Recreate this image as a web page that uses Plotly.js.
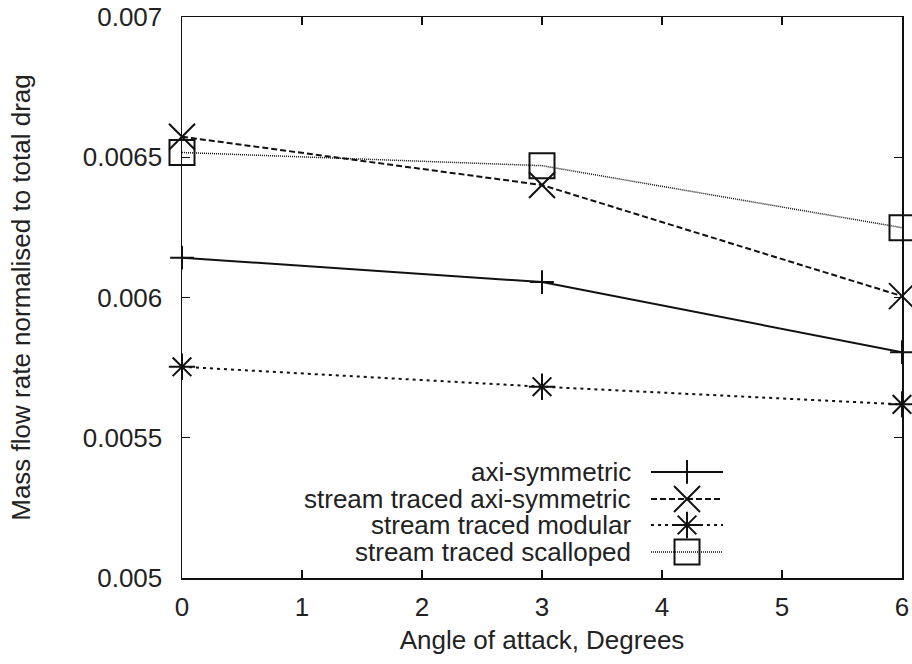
<!DOCTYPE html>
<html>
<head>
<meta charset="utf-8">
<script src="https://cdn.plot.ly/plotly-3.0.1.min.js"></script>
<style>html,body{margin:0;padding:0;background:#fff}#chart{width:912px;height:664px}</style>
</head>
<body>
<div id="chart"></div>
<script>
const angles = [0, 3, 6];
const axiSymmetric = [0.006142, 0.006055, 0.005805];
const streamTracedAxi = [0.006573, 0.006401, 0.006005];
const streamTracedModular = [0.005753, 0.005682, 0.005619];
const streamTracedScalloped = [0.006517, 0.006470, 0.006249];
const seriesNames = ["axi-symmetric", "stream traced axi-symmetric", "stream traced modular", "stream traced scalloped"];
const yTickVals = [0.005, 0.0055, 0.006, 0.0065, 0.007];
const yTickText = ["0.005", "0.0055", "0.006", "0.0065", "0.007"];
const xTickVals = [0, 1, 2, 3, 4, 5, 6];

const styles = [
  {dash: "solid", width: 2, symbol: "cross-thin-open", size: 17},
  {dash: "6px,3px", width: 2, symbol: "x-thin-open", size: 26},
  {dash: "3px,4px", width: 2, symbol: "asterisk-open", size: 22},
  {dash: "1px,1px", width: 1.5, symbol: "square-open", size: 25}
];
const seriesData = [axiSymmetric, streamTracedAxi, streamTracedModular, streamTracedScalloped];
const font = "Liberation Sans, Arial, sans-serif";
const fs = 26;

const traces = [];
seriesData.forEach((ys, i) => {
  const s = styles[i];
  traces.push({
    x: angles, y: ys, type: "scatter", mode: "lines+markers", name: seriesNames[i],
    showlegend: false, cliponaxis: false,
    line: {color: "#111", width: s.width, dash: s.dash},
    marker: {symbol: s.symbol, size: s.size, color: "#111", line: {color: "#111", width: 2}}
  });
});

// custom legend (right-aligned text, sample after text) on an invisible overlay axis
const legRows = [0.189, 0.1408, 0.0945, 0.0463];
const annotations = [];
seriesNames.forEach((n, i) => {
  const s = styles[i];
  const yy = legRows[i];
  traces.push({
    x: [0.6514, 0.7514], y: [yy, yy], xaxis: "x2", yaxis: "y2", mode: "lines",
    showlegend: false, hoverinfo: "skip", cliponaxis: false,
    line: {color: "#111", width: s.width, dash: s.dash}
  });
  traces.push({
    x: [0.7014], y: [yy], xaxis: "x2", yaxis: "y2", mode: "markers",
    showlegend: false, hoverinfo: "skip", cliponaxis: false,
    marker: {symbol: s.symbol, size: s.size, color: "#111", line: {color: "#111", width: 2}}
  });
  annotations.push({
    text: n, xref: "paper", yref: "paper", x: 0.627, y: yy, xanchor: "right", yanchor: "middle",
    showarrow: false, font: {family: font, size: fs, color: "#222"}
  });
});

const layout = {
  width: 912, height: 664,
  margin: {l: 182, r: 10, t: 17, b: 86},
  paper_bgcolor: "#fff", plot_bgcolor: "#fff",
  font: {family: font, size: fs, color: "#222"},
  showlegend: false,
  xaxis: {
    range: [0, 6], tickvals: xTickVals, ticks: "inside", ticklen: 8, tickwidth: 1.2,
    tickcolor: "#111", showline: true, linecolor: "#111", linewidth: 1.5, mirror: "ticks",
    showgrid: false, zeroline: false, ticklabelstandoff: 5,
    tickfont: {family: font, size: fs, color: "#222"},
    title: {text: "Angle of attack, Degrees", font: {family: font, size: fs, color: "#222"}, standoff: 10}
  },
  yaxis: {
    range: [0.005, 0.007], tickvals: yTickVals, ticktext: yTickText, ticks: "inside", ticklen: 8, tickwidth: 1.2,
    tickcolor: "#111", showline: true, linecolor: "#111", linewidth: 1.5, mirror: "ticks",
    showgrid: false, zeroline: false, ticklabelstandoff: 13,
    tickfont: {family: font, size: fs, color: "#222"},
    title: {text: "Mass flow rate normalised to total drag", font: {family: font, size: fs, color: "#222"}, standoff: 44}
  },
  xaxis2: {range: [0, 1], overlaying: "x", anchor: "y2", visible: false, fixedrange: true},
  yaxis2: {range: [0, 1], overlaying: "y", anchor: "x2", visible: false, fixedrange: true},
  annotations: annotations
};

Plotly.newPlot("chart", traces, layout, {staticPlot: true});
</script>
</body>
</html>
